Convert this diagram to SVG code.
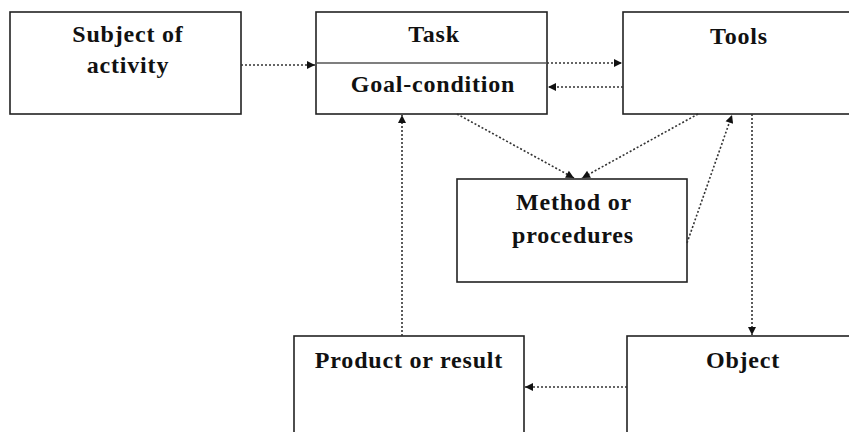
<svg xmlns="http://www.w3.org/2000/svg" width="849" height="432" viewBox="0 0 849 432">
<style>
.box{fill:#fff;stroke:#222;stroke-width:1.6}
.t{font-family:"Liberation Serif","Times New Roman",serif;font-weight:bold;font-size:24px;letter-spacing:0.8px;fill:#111;text-anchor:middle}
.c{fill:none;stroke:#333;stroke-width:1.6;stroke-dasharray:2 2}
</style>
<defs>
<marker id="ah" viewBox="0 0 10 10" refX="10" refY="5" markerWidth="9" markerHeight="8" markerUnits="userSpaceOnUse" orient="auto">
<path d="M0,0 L10,5 L0,10 z" fill="#111"/>
</marker>
</defs>
<rect x="0" y="0" width="849" height="432" fill="#fff"/>
<g id="subject">
<rect class="box" x="10" y="12" width="231" height="102"/>
<text class="t" x="128" y="42">Subject of</text>
<text class="t" x="128" y="73">activity</text>
</g>
<g id="task">
<rect class="box" x="316" y="12" width="231" height="102"/>
<line x1="316" y1="63" x2="547" y2="63" stroke="#555" stroke-width="1.6"/>
<text class="t" x="434" y="42">Task</text>
<text class="t" x="433" y="92">Goal-condition</text>
</g>
<g id="tools">
<rect class="box" x="623" y="12" width="240" height="102"/>
<text class="t" x="739" y="44">Tools</text>
</g>
<g id="method">
<rect class="box" x="457" y="179" width="230" height="103"/>
<text class="t" x="574" y="210">Method or</text>
<text class="t" x="573" y="243">procedures</text>
</g>
<g id="product">
<rect class="box" x="294" y="336" width="230" height="120"/>
<text class="t" x="409" y="368">Product or result</text>
</g>
<g id="object">
<rect class="box" x="627" y="336" width="240" height="120"/>
<text class="t" x="743" y="368">Object</text>
</g>
<g id="connectors">
<line class="c" x1="241" y1="65" x2="315" y2="65" marker-end="url(#ah)"/>
<line class="c" x1="547" y1="63" x2="622" y2="63" marker-end="url(#ah)"/>
<line class="c" x1="623" y1="87" x2="548" y2="87" marker-end="url(#ah)"/>
<line class="c" x1="457" y1="114" x2="574" y2="178" marker-end="url(#ah)"/>
<line class="c" x1="698" y1="114" x2="582" y2="178" marker-end="url(#ah)"/>
<line class="c" x1="687" y1="243" x2="732" y2="115" marker-end="url(#ah)"/>
<line class="c" x1="752" y1="114" x2="752" y2="335" marker-end="url(#ah)"/>
<line class="c" x1="627" y1="387" x2="525" y2="387" marker-end="url(#ah)"/>
<line class="c" x1="402" y1="336" x2="402" y2="115" marker-end="url(#ah)"/>
</g>
</svg>
